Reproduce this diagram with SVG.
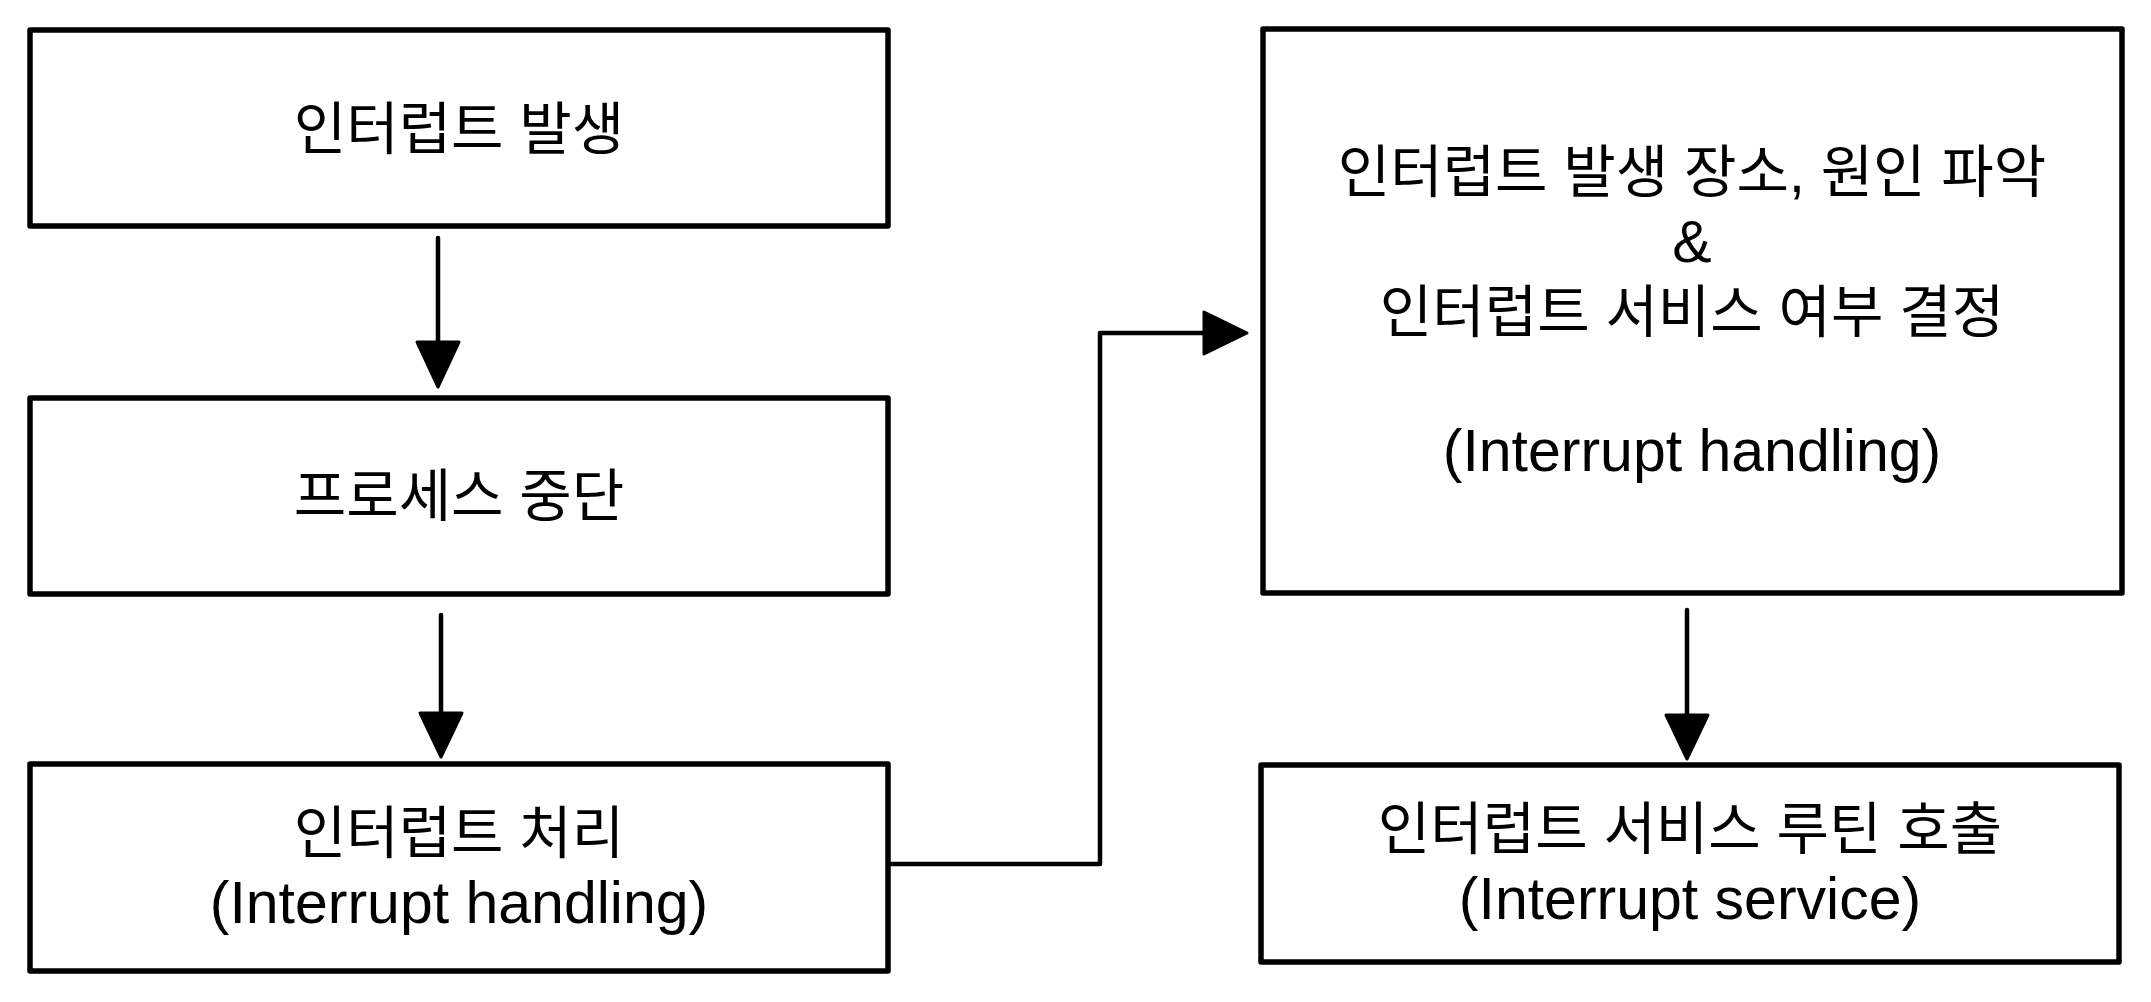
<svg xmlns="http://www.w3.org/2000/svg" width="2151" height="1002" viewBox="0 0 2151 1002">
<style>
.box{fill:#fff;stroke:#000;stroke-width:5.5;stroke-linejoin:round}
.ko{font-family:"Liberation Sans","Noto Sans CJK KR",sans-serif;font-size:57px;fill:#000;text-anchor:middle}
.en{font-family:"Liberation Sans","Noto Sans CJK KR",sans-serif;font-size:59px;fill:#000;text-anchor:middle}
.line{fill:none;stroke:#000;stroke-width:4.5;stroke-linejoin:round;stroke-linecap:round}
.head{fill:#000;stroke:#000;stroke-width:3;stroke-linejoin:round}
</style>
<rect width="2151" height="1002" fill="#fff"/>
<g id="node-occur">
<rect class="box" x="30" y="30" width="858" height="196"/>
<text class="ko" x="459" y="149">인터럽트 발생</text>
</g>
<g id="node-stop">
<rect class="box" x="30" y="398" width="858" height="196"/>
<text class="ko" x="459" y="516">프로세스 중단</text>
</g>
<g id="node-handle">
<rect class="box" x="30" y="764" width="858" height="207"/>
<text class="ko" x="459" y="853">인터럽트 처리</text>
<text class="en" x="459" y="923">(Interrupt handling)</text>
</g>
<g id="node-decide">
<rect class="box" x="1263" y="29" width="859" height="564"/>
<text class="ko" x="1692" y="192">인터럽트 발생 장소, 원인 파악</text>
<text class="en" x="1692" y="262">&amp;</text>
<text class="ko" x="1692" y="331.5">인터럽트 서비스 여부 결정</text>
<text class="en" x="1692" y="471">(Interrupt handling)</text>
</g>
<g id="node-service">
<rect class="box" x="1261" y="765" width="858" height="197"/>
<text class="ko" x="1690" y="849">인터럽트 서비스 루틴 호출</text>
<text class="en" x="1690" y="919">(Interrupt service)</text>
</g>
<g id="connectors">
<path class="line" d="M438 238 V342"/>
<path class="head" d="M417 342 L459 342 L438 387 Z"/>
<path class="line" d="M441 615 V713"/>
<path class="head" d="M420 713 L462 713 L441 757 Z"/>
<path class="line" d="M890 864 H1100 V333 H1204"/>
<path class="head" d="M1204 312 L1204 354 L1247 333 Z"/>
<path class="line" d="M1687 610 V715"/>
<path class="head" d="M1666 715 L1708 715 L1687 759 Z"/>
</g>
</svg>
